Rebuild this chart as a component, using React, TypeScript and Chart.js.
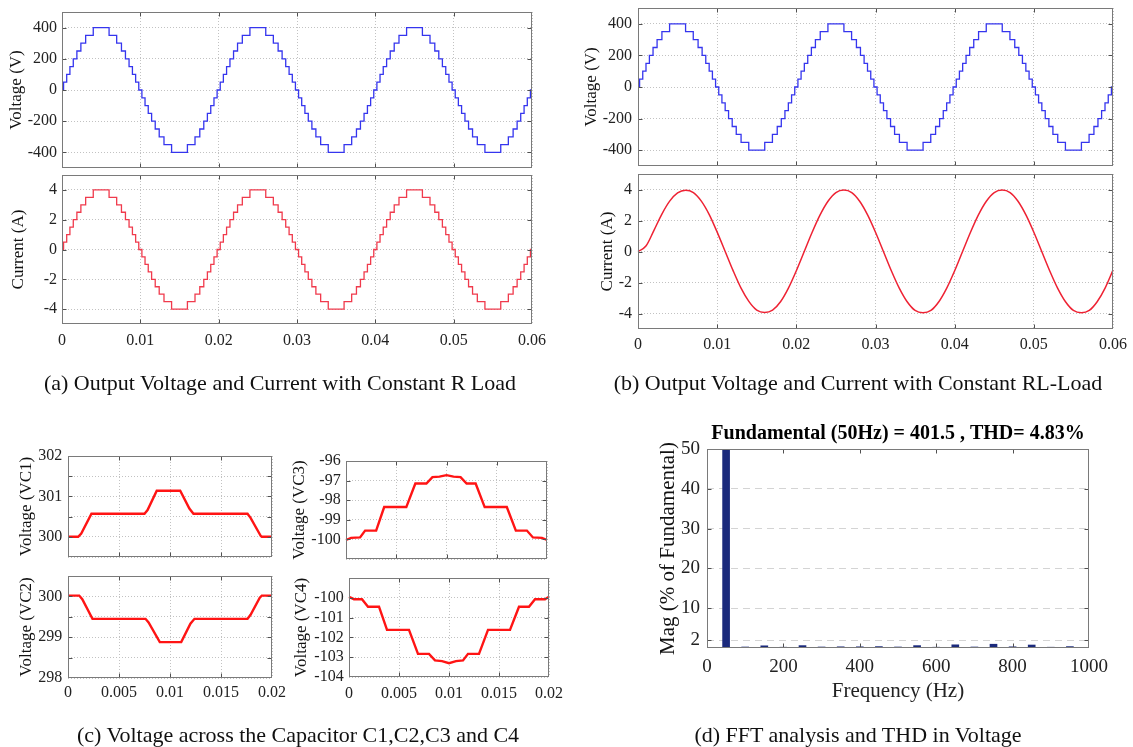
import React, { useEffect, useRef } from 'react';
import { Chart, registerables } from 'chart.js';

Chart.register(...registerables);

const SERIF = '"Liberation Serif", "Times New Roman", Times, serif';

// ---------------- data ----------------
// quarter-wave switching instants of the multilevel staircase (s)
const stepTimes = [0.0002, 0.0006, 0.00101, 0.00144, 0.0019, 0.00241, 0.00302, 0.00399];
const voltageLevels = [50, 100, 150, 200, 250, 300, 350, 400];
const currentLevelsR = [0.5, 1, 1.5, 2, 2.5, 3, 3.5, 4];
const waveformPeriod = 0.02;
const waveformCycles = 3;

// RL-load current sampled every 1 ms (A)
const rlSampleStep = 0.001;
const rlCurrent = [
  0, 0.35, 1.35, 2.4, 3.25, 3.78, 3.95, 3.8, 3.25, 2.38, 1.25,
  0.02, -1.22, -2.35, -3.22, -3.78, -3.93, -3.78, -3.24, -2.36, -1.24,
  0, 1.24, 2.36, 3.24, 3.8, 3.96, 3.8, 3.24, 2.36, 1.24,
  0, -1.24, -2.36, -3.24, -3.8, -3.95, -3.8, -3.24, -2.36, -1.24,
  0, 1.24, 2.36, 3.24, 3.8, 3.96, 3.8, 3.24, 2.36, 1.24,
  0, -1.24, -2.36, -3.24, -3.8, -3.95, -3.8, -3.24, -2.36, -1.2,
];

// capacitor voltages
const vc1Time = [0, 0.001, 0.0013, 0.0023, 0.0075, 0.0078, 0.0087, 0.011, 0.0119, 0.0123, 0.0176, 0.0179, 0.0189, 0.019, 0.02];
const vc1Value = [300, 300, 300.08, 300.57, 300.57, 300.66, 301.14, 301.14, 300.7, 300.57, 300.57, 300.47, 300.02, 300, 300];
const vc2Time = [0, 0.0011, 0.0014, 0.0024, 0.0076, 0.0079, 0.009, 0.0111, 0.012, 0.0124, 0.0176, 0.0179, 0.0188, 0.019, 0.02];
const vc2Value = [300.02, 300.02, 299.93, 299.45, 299.45, 299.36, 298.88, 298.88, 299.33, 299.45, 299.45, 299.55, 299.97, 300.02, 300.02];
const vc3Time = [0, 0.0005, 0.0014, 0.0019, 0.003, 0.0038, 0.006, 0.0069, 0.008, 0.0086, 0.0093, 0.01, 0.0107, 0.0114, 0.012, 0.0129, 0.0138, 0.016, 0.0169, 0.018, 0.0186, 0.0195, 0.02];
const vc3Value = [-100.03, -99.92, -99.9, -99.55, -99.55, -98.35, -98.35, -97.15, -97.15, -96.82, -96.8, -96.72, -96.8, -96.82, -97.15, -97.15, -98.35, -98.35, -99.55, -99.55, -99.9, -99.92, -100.03];
const vc4Time = [0, 0.0005, 0.0013, 0.0019, 0.003, 0.0038, 0.006, 0.0069, 0.008, 0.0086, 0.0093, 0.01, 0.0107, 0.0114, 0.0119, 0.013, 0.0139, 0.0161, 0.017, 0.018, 0.0186, 0.0196, 0.02];
const vc4Value = [-99.95, -100.07, -100.07, -100.45, -100.45, -101.62, -101.62, -102.83, -102.83, -103.16, -103.2, -103.3, -103.2, -103.16, -102.83, -102.83, -101.62, -101.62, -100.45, -100.45, -100.07, -100.07, -99.95];

// FFT spectrum
const fftFreq = [50, 100, 150, 200, 250, 300, 350, 400, 450, 500, 550, 600, 650, 700, 750, 800, 850, 900, 950];
const fftMag = [100, 0.25, 0.55, 0.2, 0.6, 0.25, 0.3, 0.3, 0.35, 0.25, 0.6, 0.2, 0.8, 0.25, 0.95, 0.3, 0.75, 0.2, 0.35];

// ticks
const timeTicksAB = [0, 0.01, 0.02, 0.03, 0.04, 0.05, 0.06];
const timeLabelsAB = ['0', '0.01', '0.02', '0.03', '0.04', '0.05', '0.06'];
const voltTicks = [-400, -200, 0, 200, 400];
const voltLabels = ['-400', '-200', '0', '200', '400'];
const currTicks = [-4, -2, 0, 2, 4];
const currLabels = ['-4', '-2', '0', '2', '4'];
const timeTicksC = [0, 0.005, 0.01, 0.015, 0.02];
const timeLabelsC = ['0', '0.005', '0.01', '0.015', '0.02'];
const vc1Ticks = [299.5, 300, 300.5, 301, 301.5, 302];
const vc1Labels = ['', '300', '', '301', '', '302'];
const vc2Ticks = [298, 298.5, 299, 299.5, 300, 300.5];
const vc2Labels = ['298', '', '299', '', '300', ''];
const vc3Ticks = [-101, -100, -99, -98, -97, -96];
const vc3Labels = ['', '-100', '-99', '-98', '-97', '-96'];
const vc4Ticks = [-104, -103, -102, -101, -100, -99];
const vc4Labels = ['-104', '-103', '-102', '-101', '-100', ''];
const freqTicks = [0, 200, 400, 600, 800, 1000];
const freqLabels = ['0', '200', '400', '600', '800', '1000'];
const magTicks = [2, 10, 20, 30, 40, 50];
const magLabels = ['2', '10', '20', '30', '40', '50'];

// ---------------- builders ----------------
function staircase(levels: number[]) {
  const n = stepTimes.length;
  const half = waveformPeriod / 2;
  const pts: { x: number; y: number }[] = [{ x: 0, y: 0 }];
  for (let c = 0; c < waveformCycles; c++) {
    for (let h = 0; h < 2; h++) {
      const sign = h === 0 ? 1 : -1;
      const base = c * waveformPeriod + h * half;
      for (let k = 0; k < n; k++) pts.push({ x: base + stepTimes[k], y: sign * levels[k] });
      for (let k = n - 1; k >= 0; k--) pts.push({ x: base + half - stepTimes[k], y: k > 0 ? sign * levels[k - 1] : 0 });
    }
  }
  pts.push({ x: waveformCycles * waveformPeriod, y: 0 });
  return pts;
}
const zip = (xs: number[], ys: number[]) => xs.map((x, i) => ({ x, y: ys[i] }));

const framePlugin = {
  id: 'frame',
  afterDatasetsDraw(chart: any, _a: any, opts: any) {
    const { ctx, chartArea: a } = chart;
    const L = Math.round(a.left) + 0.5;
    const R = Math.round(a.right) - 0.5;
    const T = Math.round(a.top) + 0.5;
    const B = Math.round(a.bottom) - 0.5;
    ctx.save();
    ctx.setLineDash([]);
    ctx.lineWidth = 1;
    const len = opts.tickLen || 0;
    if (len) {
      ctx.strokeStyle = opts.tickColor || '#444';
      ctx.beginPath();
      const xs = chart.scales.x;
      const ys = chart.scales.y;
      for (const t of xs.ticks) {
        const p = Math.round(xs.getPixelForValue(t.value)) + 0.5;
        if (p <= L + 2 || p >= R - 2) continue;
        ctx.moveTo(p, B); ctx.lineTo(p, B - len);
        ctx.moveTo(p, T); ctx.lineTo(p, T + len);
      }
      for (const t of ys.ticks) {
        const p = Math.round(ys.getPixelForValue(t.value)) + 0.5;
        if (p <= T + 2 || p >= B - 2) continue;
        ctx.moveTo(L, p); ctx.lineTo(L + len, p);
        ctx.moveTo(R, p); ctx.lineTo(R - len, p);
      }
      ctx.stroke();
    }
    ctx.strokeStyle = opts.color || '#777';
    ctx.strokeRect(L, T, R - L, B - T);
    ctx.restore();
  },
};

type Spec = {
  id: string;
  kind: 'line' | 'bar';
  left: number;
  top: number;
  plot: { l: number; t: number; r: number; b: number };
  padRight: number;
  padBottom: number;
  datasets: any[];
  xMin: number; xMax: number; xTicks: number[]; xLabels: string[]; showX: boolean; xPad: number; xAxisH: number;
  xTitle?: string; xTitlePadBottom?: number; xGrid: boolean;
  yMin: number; yMax: number; yTicks: number[]; yLabels: string[]; yPad: number;
  yTitle: string; yTitleCx: number;
  tickSize: number; titleSize: number;
  gridColor: string; gridDash: number[];
  chartTitle?: string; chartTitleSize?: number;
};

function makeConfig(s: Spec): any {
  const titleH = s.chartTitle ? (s.chartTitleSize || 20) * 1.2 + 3 : 0;
  const yTitlePad = s.yTitleCx - s.left - (s.titleSize * 1.2) / 2;
  return {
    type: s.kind,
    data: { datasets: s.datasets },
    options: {
      animation: false,
      responsive: false,
      devicePixelRatio: 1,
      events: [],
      layout: { padding: { left: 0, top: s.plot.t - s.top - titleH, right: s.padRight, bottom: s.padBottom } },
      plugins: {
        legend: { display: false },
        tooltip: { enabled: false },
        title: s.chartTitle
          ? {
              display: true,
              text: s.chartTitle,
              fullSize: false,
              color: '#000',
              font: { family: SERIF, size: s.chartTitleSize || 20, weight: 'bold' },
              padding: { top: 0, bottom: 3 },
            }
          : { display: false },
        frame: { color: '#7a7a7a', tickColor: '#505050', tickLen: 4 },
      },
      scales: {
        x: {
          type: 'linear',
          min: s.xMin,
          max: s.xMax,
          offset: false,
          afterBuildTicks: (sc: any) => { sc.ticks = s.xTicks.map((v) => ({ value: v })); },
          afterFit: (sc: any) => { sc.height = s.xAxisH; },
          ticks: {
            display: s.showX,
            autoSkip: false,
            maxRotation: 0,
            padding: s.xPad,
            color: '#222',
            font: { family: SERIF, size: s.tickSize },
            callback: (_v: any, i: number) => s.xLabels[i],
          },
          grid: { display: true, drawOnChartArea: s.xGrid, drawTicks: false, color: s.gridColor, lineWidth: 1, offset: false },
          border: { display: false, dash: s.gridDash },
          title: s.xTitle
            ? { display: true, text: s.xTitle, color: '#222', font: { family: SERIF, size: s.titleSize }, padding: { top: 0, bottom: s.xTitlePadBottom || 0 } }
            : { display: false },
        },
        y: {
          type: 'linear',
          min: s.yMin,
          max: s.yMax,
          afterBuildTicks: (sc: any) => { sc.ticks = s.yTicks.map((v) => ({ value: v })); },
          afterFit: (sc: any) => { sc.width = s.plot.l - s.left; },
          ticks: {
            autoSkip: false,
            padding: s.yPad,
            color: '#222',
            font: { family: SERIF, size: s.tickSize },
            callback: (_v: any, i: number) => s.yLabels[i],
          },
          grid: { display: true, drawTicks: false, color: s.gridColor, lineWidth: 1 },
          border: { display: false, dash: s.gridDash },
          title: {
            display: true,
            text: s.yTitle,
            color: '#111',
            font: { family: SERIF, size: s.titleSize },
            padding: { top: yTitlePad, bottom: 0 },
          },
        },
      },
    },
    plugins: [framePlugin],
  };
}

const BLUE = '#3535ee';
const RED_A = '#f03a4c';
const RED_B = '#ee2233';
const RED_C = '#ff1414';
const NAVY = '#1b2a7c';
const DOT = [1, 2];

const lineDs = (data: any[], color: string, width: number, extra: any = {}) => ({
  data, borderColor: color, borderWidth: width, pointRadius: 0, fill: false, clip: 2, ...extra,
});

const common = { padRight: 30, padBottom: 24, tickSize: 16, titleSize: 17, gridColor: '#c2c2c2', gridDash: DOT, xGrid: true };

const specs: Spec[] = [
  {
    ...common, id: 'a1', kind: 'line', left: 0, top: -12, plot: { l: 62, t: 12, r: 532, b: 168 },
    datasets: [lineDs(staircase(voltageLevels), BLUE, 1.3, { stepped: true })],
    xMin: 0, xMax: 0.06, xTicks: timeTicksAB, xLabels: timeLabelsAB, showX: false, xPad: 0, xAxisH: 0,
    yMin: -500, yMax: 500, yTicks: voltTicks, yLabels: voltLabels, yPad: 5, yTitle: 'Voltage (V)', yTitleCx: 16.5,
  },
  {
    ...common, id: 'a2', kind: 'line', left: 0, top: 151, plot: { l: 62, t: 175, r: 532, b: 324 },
    datasets: [lineDs(staircase(currentLevelsR), RED_A, 1.3, { stepped: true })],
    xMin: 0, xMax: 0.06, xTicks: timeTicksAB, xLabels: timeLabelsAB, showX: true, xPad: 7.4, xAxisH: 32,
    yMin: -5, yMax: 5, yTicks: currTicks, yLabels: currLabels, yPad: 5, yTitle: 'Current (A)', yTitleCx: 18.8,
  },
  {
    ...common, id: 'b1', kind: 'line', left: 580, top: -16, plot: { l: 638, t: 8, r: 1113, b: 166 },
    datasets: [lineDs(staircase(voltageLevels), BLUE, 1.3, { stepped: true })],
    xMin: 0, xMax: 0.06, xTicks: timeTicksAB, xLabels: timeLabelsAB, showX: false, xPad: 0, xAxisH: 0,
    yMin: -500, yMax: 500, yTicks: voltTicks, yLabels: voltLabels, yPad: 6, yTitle: 'Voltage (V)', yTitleCx: 592,
  },
  {
    ...common, id: 'b2', kind: 'line', left: 580, top: 150, plot: { l: 638, t: 174, r: 1113, b: 329 },
    datasets: [lineDs(rlCurrent.map((v, i) => ({ x: i * rlSampleStep, y: v })), RED_B, 1.5, { cubicInterpolationMode: 'monotone', tension: 0.4 })],
    xMin: 0, xMax: 0.06, xTicks: timeTicksAB, xLabels: timeLabelsAB, showX: true, xPad: 6.4, xAxisH: 32,
    yMin: -5, yMax: 5, yTicks: currTicks, yLabels: currLabels, yPad: 6, yTitle: 'Current (A)', yTitleCx: 607.7,
  },
  {
    ...common, id: 'c1', kind: 'line', left: 0, top: 432, plot: { l: 68, t: 456, r: 272, b: 557 },
    datasets: [lineDs(zip(vc1Time, vc1Value), RED_C, 2.4)],
    xMin: 0, xMax: 0.02, xTicks: timeTicksC, xLabels: timeLabelsC, showX: false, xPad: 0, xAxisH: 0,
    yMin: 299.5, yMax: 302, yTicks: vc1Ticks, yLabels: vc1Labels, yPad: 5.7, yTitle: 'Voltage (VC1)', yTitleCx: 27,
  },
  {
    ...common, id: 'c2', kind: 'line', left: 0, top: 552, plot: { l: 68, t: 576, r: 272, b: 678 },
    datasets: [lineDs(zip(vc2Time, vc2Value), RED_C, 2.4)],
    xMin: 0, xMax: 0.02, xTicks: timeTicksC, xLabels: timeLabelsC, showX: true, xPad: 5.4, xAxisH: 30,
    yMin: 298, yMax: 300.5, yTicks: vc2Ticks, yLabels: vc2Labels, yPad: 5.7, yTitle: 'Voltage (VC2)', yTitleCx: 27,
  },
  {
    ...common, id: 'c3', kind: 'line', left: 280, top: 437, plot: { l: 346, t: 461, r: 547, b: 559 },
    datasets: [lineDs(zip(vc3Time, vc3Value), RED_C, 2.4)],
    xMin: 0, xMax: 0.02, xTicks: timeTicksC, xLabels: timeLabelsC, showX: false, xPad: 0, xAxisH: 0,
    yMin: -101, yMax: -96, yTicks: vc3Ticks, yLabels: vc3Labels, yPad: 5.3, yTitle: 'Voltage (VC3)', yTitleCx: 300,
  },
  {
    ...common, id: 'c4', kind: 'line', left: 280, top: 554, plot: { l: 349, t: 578, r: 549, b: 677 },
    datasets: [lineDs(zip(vc4Time, vc4Value), RED_C, 2.4)],
    xMin: 0, xMax: 0.02, xTicks: timeTicksC, xLabels: timeLabelsC, showX: true, xPad: 6.7, xAxisH: 30,
    yMin: -104, yMax: -99, yTicks: vc4Ticks, yLabels: vc4Labels, yPad: 5.3, yTitle: 'Voltage (VC4)', yTitleCx: 302,
  },
  {
    ...common, id: 'd', kind: 'bar', left: 640, top: 400, plot: { l: 707, t: 449, r: 1089, b: 648 },
    padRight: 30, padBottom: 6,
    datasets: [{ data: zip(fftFreq, fftMag), backgroundColor: NAVY, borderWidth: 0, barThickness: 7, clip: 0 }],
    xMin: 0, xMax: 1000, xTicks: freqTicks, xLabels: freqLabels, showX: true, xPad: 7.3, xAxisH: 60,
    xTitle: 'Frequency (Hz)', xTitlePadBottom: 3.7, xGrid: false,
    yMin: 0, yMax: 50, yTicks: magTicks, yLabels: magLabels, yPad: 7, yTitle: 'Mag (% of Fundamental)', yTitleCx: 668,
    tickSize: 19, titleSize: 21, gridColor: '#d4d4d4', gridDash: [7, 5],
    chartTitle: 'Fundamental (50Hz) = 401.5 , THD= 4.83%', chartTitleSize: 20,
  },
];

function ChartPanel({ spec }: { spec: Spec }) {
  const ref = useRef<HTMLCanvasElement | null>(null);
  const w = spec.plot.r + spec.padRight - spec.left;
  const h = spec.plot.b + spec.xAxisH + spec.padBottom - spec.top;
  useEffect(() => {
    if (!ref.current) return;
    const chart = new Chart(ref.current, makeConfig(spec));
    return () => chart.destroy();
  }, [spec]);
  return (
    <canvas
      ref={ref}
      width={w}
      height={h}
      style={{ position: 'absolute', left: spec.left, top: spec.top, width: w, height: h }}
    />
  );
}

const captions = [
  { text: '(a) Output Voltage and Current with Constant R Load', cx: 280, cy: 383 },
  { text: '(b) Output Voltage and Current with Constant RL-Load', cx: 858, cy: 383 },
  { text: '(c) Voltage across the Capacitor C1,C2,C3 and C4', cx: 298, cy: 735 },
  { text: '(d) FFT analysis and THD in Voltage', cx: 858, cy: 735 },
];

export default function App() {
  return (
    <div
      style={{
        position: 'absolute', left: 0, top: 0, width: 1133, height: 747,
        overflow: 'hidden', background: '#fff', fontFamily: SERIF,
      }}
    >
      {specs.map((s) => (
        <ChartPanel key={s.id} spec={s} />
      ))}
      {captions.map((c) => (
        <div
          key={c.text}
          style={{
            position: 'absolute', left: c.cx - 300, top: c.cy - 13, width: 600, height: 26,
            lineHeight: '26px', fontSize: 22, textAlign: 'center', color: '#111', whiteSpace: 'nowrap',
          }}
        >
          {c.text}
        </div>
      ))}
    </div>
  );
}
